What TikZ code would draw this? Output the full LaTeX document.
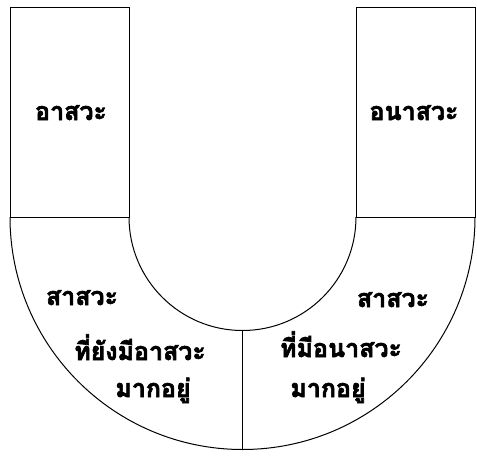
\documentclass[tikz,border=0pt]{standalone}
\usepackage{fontspec}
\newfontfamily\thaifont[Script=Thai,BoldFeatures={FakeBold=2.5}]{Loma}
\begin{document}
\begin{tikzpicture}[x={(1pt,0)},y={(0,-1pt)},
  outline/.style={draw=black,line width=1pt},
  lbl/.style={font=\thaifont\bfseries\fontsize{25}{29}\selectfont,inner sep=0pt,anchor=base}]
\useasboundingbox (0,0) rectangle (477,461);
% upper boxes
\draw[outline] (10,7) rectangle (129,217);
\draw[outline] (356,7) rectangle (475,217);
% horseshoe
\draw[outline] (10,217) arc[start angle=180,end angle=0,radius=232.5];
\draw[outline] (129,217) arc[start angle=180,end angle=0,radius=113.5];
\coordinate (innerbot) at (242.5,330.5);
\coordinate (outerbot) at (242.5,449.5);
\draw[outline] (innerbot) -- (outerbot);
% labels
\node[lbl] (asava) at (71,120) {อาสวะ};
\node[lbl] (anasava) at (414,120) {อนาสวะ};
\node[lbl] (l1) at (82,305) {สาสวะ};
\node[lbl] (l2) at (140,360) {ที่ยังมีอาสวะ};
\node[lbl] (l3) at (153,397) {มากอยู่};
\node[lbl] (r1) at (393,307) {สาสวะ};
\node[lbl] (r2) at (341,357) {ที่มีอนาสวะ};
\node[lbl] (r3) at (328,397) {มากอยู่};
\end{tikzpicture}
\end{document}
